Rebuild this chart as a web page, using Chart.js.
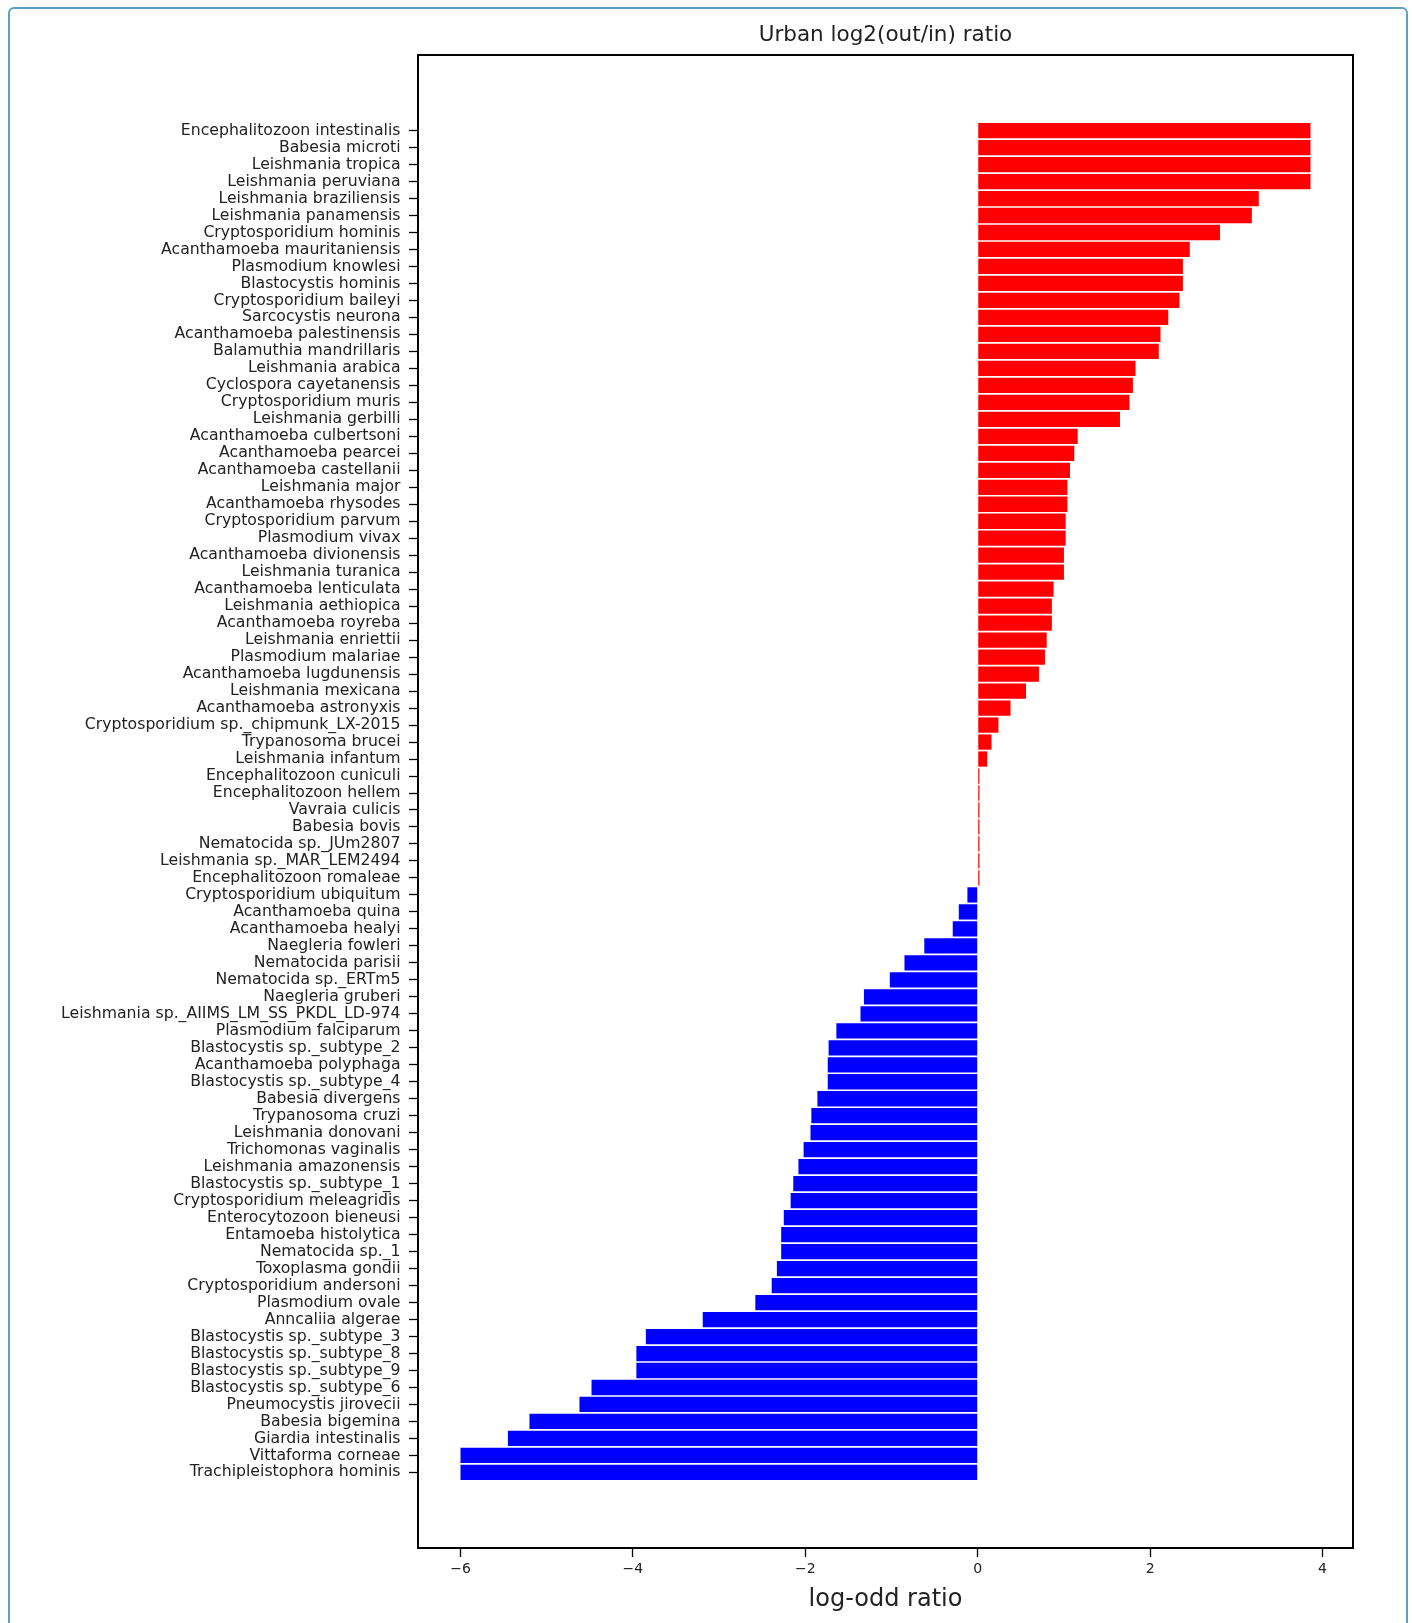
<!DOCTYPE html>
<html>
<head>
<meta charset="utf-8">
<title>Urban log2(out/in) ratio</title>
<script src="https://cdn.jsdelivr.net/npm/chart.js@4/dist/chart.umd.min.js"></script>
<style>
  html, body { margin: 0; padding: 0; background: #ffffff; }
  body { width: 1412px; height: 1623px; position: relative; overflow: hidden; }
  #frame {
    position: absolute; left: 8px; top: 7px; width: 1400px; height: 1650px;
    border: 2px solid #5aa3c6; border-radius: 6px; box-sizing: border-box;
  }
  #chart { position: absolute; left: 0; top: 0; }
</style>
</head>
<body>
<div id="frame"></div>
<canvas id="chart" width="1412" height="1623"></canvas>
<script>
// Species, top to bottom
const species = [
  "Encephalitozoon intestinalis", "Babesia microti", "Leishmania tropica", "Leishmania peruviana",
  "Leishmania braziliensis", "Leishmania panamensis", "Cryptosporidium hominis", "Acanthamoeba mauritaniensis",
  "Plasmodium knowlesi", "Blastocystis hominis", "Cryptosporidium baileyi", "Sarcocystis neurona",
  "Acanthamoeba palestinensis", "Balamuthia mandrillaris", "Leishmania arabica", "Cyclospora cayetanensis",
  "Cryptosporidium muris", "Leishmania gerbilli", "Acanthamoeba culbertsoni", "Acanthamoeba pearcei",
  "Acanthamoeba castellanii", "Leishmania major", "Acanthamoeba rhysodes", "Cryptosporidium parvum",
  "Plasmodium vivax", "Acanthamoeba divionensis", "Leishmania turanica", "Acanthamoeba lenticulata",
  "Leishmania aethiopica", "Acanthamoeba royreba", "Leishmania enriettii", "Plasmodium malariae",
  "Acanthamoeba lugdunensis", "Leishmania mexicana", "Acanthamoeba astronyxis", "Cryptosporidium sp._chipmunk_LX-2015",
  "Trypanosoma brucei", "Leishmania infantum", "Encephalitozoon cuniculi", "Encephalitozoon hellem",
  "Vavraia culicis", "Babesia bovis", "Nematocida sp._JUm2807", "Leishmania sp._MAR_LEM2494",
  "Encephalitozoon romaleae", "Cryptosporidium ubiquitum", "Acanthamoeba quina", "Acanthamoeba healyi",
  "Naegleria fowleri", "Nematocida parisii", "Nematocida sp._ERTm5", "Naegleria gruberi",
  "Leishmania sp._AIIMS_LM_SS_PKDL_LD-974", "Plasmodium falciparum", "Blastocystis sp._subtype_2", "Acanthamoeba polyphaga",
  "Blastocystis sp._subtype_4", "Babesia divergens", "Trypanosoma cruzi", "Leishmania donovani",
  "Trichomonas vaginalis", "Leishmania amazonensis", "Blastocystis sp._subtype_1", "Cryptosporidium meleagridis",
  "Enterocytozoon bieneusi", "Entamoeba histolytica", "Nematocida sp._1", "Toxoplasma gondii",
  "Cryptosporidium andersoni", "Plasmodium ovale", "Anncaliia algerae", "Blastocystis sp._subtype_3",
  "Blastocystis sp._subtype_8", "Blastocystis sp._subtype_9", "Blastocystis sp._subtype_6", "Pneumocystis jirovecii",
  "Babesia bigemina", "Giardia intestinalis", "Vittaforma corneae", "Trachipleistophora hominis"
];

// log-odd ratio per species, same order
const logOdds = [
  3.86, 3.86, 3.86, 3.86,
  3.26, 3.18, 2.81, 2.46,
  2.38, 2.38, 2.34, 2.21,
  2.12, 2.10, 1.83, 1.80,
  1.76, 1.65, 1.16, 1.12,
  1.07, 1.04, 1.04, 1.02,
  1.02, 1.00, 1.00, 0.88,
  0.86, 0.86, 0.80, 0.78,
  0.71, 0.56, 0.38, 0.24,
  0.16, 0.11, 0.02, 0.02,
  0.02, 0.02, 0.02, 0.02,
  0.02, -0.12, -0.22, -0.29,
  -0.62, -0.85, -1.02, -1.32,
  -1.36, -1.64, -1.73, -1.74,
  -1.74, -1.86, -1.93, -1.94,
  -2.02, -2.08, -2.14, -2.17,
  -2.25, -2.28, -2.28, -2.33,
  -2.39, -2.58, -3.19, -3.85,
  -3.96, -3.96, -4.48, -4.62,
  -5.20, -5.45, -6.00, -6.00
];

const xTickValues = [-6, -4, -2, 0, 2, 4];

const chartTitle = "Urban log2(out/in) ratio";
const xAxisTitle = "log-odd ratio";

const POS_COLOR = "#ff0000";
const NEG_COLOR = "#0000ff";
const TEXT_COLOR = "#222222";
const FONT = "'DejaVu Sans', sans-serif";

// value range with a 5% margin on either side
const xMin = Math.min(...logOdds);
const xMax = Math.max(...logOdds);
const xPad = (xMax - xMin) * 0.05;

const points = logOdds.map((v, i) => ({ x: v, y: i }));
const colors = logOdds.map(v => (v > 0 ? POS_COLOR : NEG_COLOR));

// closed box around the plotting area
const frameBox = {
  id: "frameBox",
  afterDraw(chart) {
    const { ctx, chartArea: a } = chart;
    ctx.save();
    ctx.strokeStyle = "#000000";
    ctx.lineWidth = 2;
    ctx.strokeRect(a.left, a.top, a.right - a.left, a.bottom - a.top);
    ctx.restore();
  }
};

new Chart(document.getElementById("chart"), {
  type: "bar",
  data: {
    datasets: [{
      data: points,
      backgroundColor: colors,
      borderWidth: 0,
      barPercentage: 0.9,
      categoryPercentage: 1.0
    }]
  },
  options: {
    indexAxis: "y",
    responsive: false,
    animation: false,
    devicePixelRatio: 1,
    layout: { padding: { top: 0, right: 59, bottom: 0, left: 0 } },
    plugins: {
      legend: { display: false },
      tooltip: { enabled: false },
      title: {
        display: true,
        text: chartTitle,
        fullSize: false,
        color: TEXT_COLOR,
        font: { family: FONT, size: 21.5, weight: "normal" },
        padding: { top: 23, bottom: 6.2 }
      }
    },
    scales: {
      y: {
        type: "linear",
        reverse: true,
        offset: false,
        min: -4.45,
        max: species.length - 1 + 4.45,
        afterBuildTicks(scale) {
          scale.ticks = species.map((_, i) => ({ value: i }));
        },
        afterFit(scale) { scale.width = 418; },
        ticks: {
          autoSkip: false,
          padding: 8.5,
          color: TEXT_COLOR,
          font: { family: FONT, size: 15.7 },
          callback: (v) => species[v]
        },
        grid: {
          offset: false,
          drawOnChartArea: false,
          drawTicks: true,
          tickLength: 9,
          tickColor: "#000000",
          tickWidth: 1.3
        },
        border: { display: true, color: "#000000", width: 2 }
      },
      x: {
        type: "linear",
        min: xMin - xPad,
        max: xMax + xPad,
        afterBuildTicks(scale) {
          scale.ticks = xTickValues.map(v => ({ value: v }));
        },
        afterFit(scale) { scale.height = 75; },
        ticks: {
          padding: 4,
          color: TEXT_COLOR,
          font: { family: FONT, size: 14 },
          callback: (v) => (v < 0 ? "\u2212" + Math.abs(v) : String(v))
        },
        grid: {
          drawOnChartArea: false,
          drawTicks: true,
          tickLength: 9,
          tickColor: "#000000",
          tickWidth: 1.3
        },
        border: { display: true, color: "#000000", width: 2 },
        title: {
          display: true,
          text: xAxisTitle,
          color: TEXT_COLOR,
          font: { family: FONT, size: 24 },
          padding: { top: 0, bottom: 9 }
        }
      }
    }
  },
  plugins: [frameBox]
});
</script>
</body>
</html>
